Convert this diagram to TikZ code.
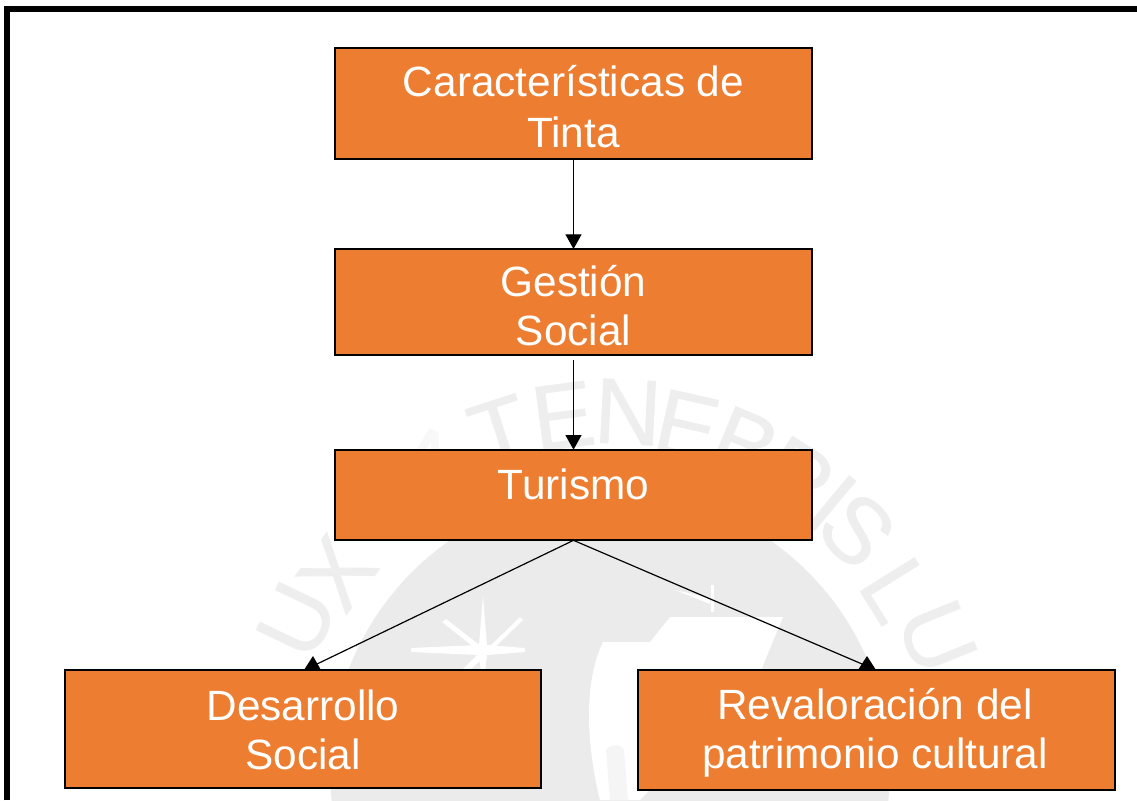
\documentclass[tikz,border=0pt]{standalone}
\usepackage{fontspec}
\setmainfont{Liberation Sans}
\newfontfamily\wmfont[FakeBold=0.6]{Liberation Sans}
\usetikzlibrary{arrows.meta}
\definecolor{boxorange}{HTML}{ED7D31}
\definecolor{wmgray}{HTML}{EBEBEB}
\definecolor{wmletter}{HTML}{EEEEEE}
\definecolor{wmfaint}{HTML}{F8F8F8}
\definecolor{wmdetail}{HTML}{F5F5F5}
\tikzset{
  boxnode/.style={draw=black,line width=1.5pt,fill=boxorange,inner sep=0pt,outer sep=0pt,minimum width=358pt},
  labelnode/.style={text=white,font=\fontsize{31.75pt}{36.75pt}\selectfont,align=center,inner sep=0pt},
  conn/.style={draw=black,line width=.9pt},
  connhead/.style={conn,-{Triangle[length=11pt,width=12pt]}},
  uptip/.style={fill=black},
  wmstyle/.style={font=\wmfont\fontsize{70pt}{70pt}\selectfont,inner sep=0pt},
}
\begin{document}
\begin{tikzpicture}[x=.75pt,y=-.75pt]
\useasboundingbox (0,0) rectangle (1137,800);
\begin{scope}
\clip (0,0) rectangle (1137,800);
% watermark
\fill[wmgray] (610,770) circle [radius=280];
\foreach \l/\x/\y in {U/297/620,X/337/573,I/377/511,T/500/432,E/563/416,N/628/412,E/687/426,B/745/445,R/797/477,I/832/503,S/857/530,L/897/590,U/937/637}{
  \pgfmathsetmacro\rot{-atan2(\x-610,770-\y)}
  \node[wmstyle,text=wmletter,rotate=\rot] (wm\x) at (\x,\y) {\l};
}
\node[wmstyle,text=wmfaint,rotate=-30] (wmN) at (436,469) {N};
% white marks in the shield
\fill[white] (670,617) -- (783,617) -- (757,680) -- (640,800) -- (600,800)
  .. controls (590,760) and (580,690) .. (603,642) -- (650,642) -- cycle;
\fill[wmdetail] (610,800) -- (606,750) .. controls (612,742) and (622,745) .. (624,750) -- (628,800) -- cycle;
\fill[white] (483,596) -- (487,645) -- (525,648) -- (525,652) -- (487,655) -- (483,690) -- (479,655) -- (411,652) -- (411,648) -- (479,645) -- cycle;
\fill[white] (442,622) -- (446,619) -- (486,650) -- (520,617) -- (523,620) -- (487,655) -- (458,680) -- (455,677) -- (480,652) -- cycle;
\fill[white] (711,585) -- (714,585) -- (714,612) -- (711,612) -- cycle;
\fill[white] (675,590) -- (710,598) -- (710,604) -- cycle;
% frame
\draw[line width=4.5pt,line cap=butt] (7,800) -- (7,9) -- (1137,9);
\end{scope}
% boxes
\node[boxnode,minimum height=83pt] (a) at (573.5,103.5) {};
\node[boxnode,minimum height=79.5pt] (b) at (573.5,302) {};
\node[boxnode,minimum height=68pt] (c) at (573.5,495) {};
\node[boxnode,minimum height=88.5pt,minimum width=357pt] (d) at (303,729) {};
\node[boxnode,minimum height=90pt] (e) at (876.5,730) {};
% labels
\node[labelnode] (at) at (573.5,107) {Características de\\[1.5pt]Tinta};
\node[labelnode] (bt) at (573.5,306) {Gestión\\Social};
\node[labelnode] (ct) at (573.5,484) {Turismo};
\node[labelnode] (dt) at (303,730) {Desarrollo\\Social};
\node[labelnode] (et) at (875,733) {Revaloración del\\patrimonio cultural};
% connectors
\coordinate (bstart) at (573.5,360);
\coordinate (dend) at (317,664);
\coordinate (eend) at (862,664);
\draw[connhead] (a.south) -- (b.north);
\draw[connhead] (bstart) -- (c.north);
\draw[conn] (c.south) -- (dend);
\draw[conn] (c.south) -- (eend);
\fill[uptip] (313,656) -- (321,670) -- (304,670) -- cycle;
\fill[uptip] (867,656) -- (876,670) -- (858,670) -- cycle;
\end{tikzpicture}
\end{document}
